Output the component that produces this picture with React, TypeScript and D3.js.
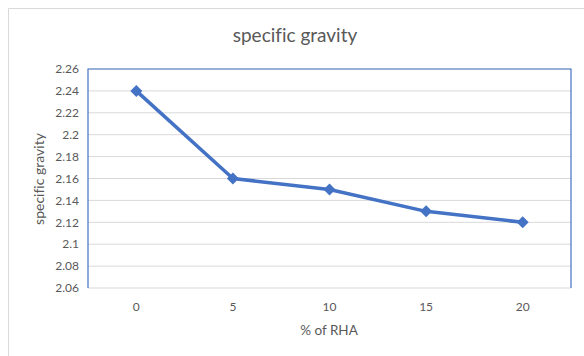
import React from "react";
import * as d3 from "d3";

const categories = ["0", "5", "10", "15", "20"];
const values = [2.24, 2.16, 2.15, 2.13, 2.12];
const yTicks = [2.06, 2.08, 2.1, 2.12, 2.14, 2.16, 2.18, 2.2, 2.22, 2.24, 2.26];

const W = 584, H = 356;
const M = { left: 88, right: 571, top: 69, bottom: 288 };
const FONT = "Lato, 'Open Sans', sans-serif";

export default function App() {
  const x = d3.scaleBand().domain(categories).range([M.left, M.right]);
  const y = d3.scaleLinear().domain([2.06, 2.26]).range([M.bottom, M.top]);
  const line = d3
    .line<number>()
    .x((_, i) => (x(categories[i]) as number) + x.bandwidth() / 2)
    .y((d) => y(d));
  const r = 6;
  const diamond = `M0,${-r} L${r},0 L0,${r} L${-r},0 Z`;
  return (
    <svg
      width={W}
      height={H}
      style={{ position: "absolute", left: 0, top: 0, fontVariantLigatures: "none" }}
      fontFamily={FONT}
    >
      <rect x={0} y={0} width={W} height={H} fill="#fff" />
      <path d={`M8.5,${H} V8.5 H${W}`} fill="none" stroke="#d9d9d9" strokeWidth={1} />
      <text x={295} y={42} textAnchor="middle" fontSize={19} fill="#595959">
        specific gravity
      </text>
      {yTicks.map((t) => (
        <g key={t}>
          <line x1={M.left} x2={M.right} y1={y(t)} y2={y(t)} stroke="#d9d9d9" strokeWidth={1} />
          <text x={79} y={y(t)} dy="0.35em" textAnchor="end" fontSize={12} fill="#595959">
            {d3.format("")(+t.toFixed(2))}
          </text>
        </g>
      ))}
      <path
        d={`M${M.left},${M.bottom} V${M.top} H${M.right} V${M.bottom}`}
        fill="none"
        stroke="#4472C4"
        strokeWidth={1.2}
      />
      {categories.map((c) => (
        <text
          key={c}
          x={(x(c) as number) + x.bandwidth() / 2}
          y={311}
          textAnchor="middle"
          fontSize={12}
          fill="#595959"
        >
          {c}
        </text>
      ))}
      <text x={329} y={335} textAnchor="middle" fontSize={13.5} fill="#595959">
        % of RHA
      </text>
      <text
        transform={`translate(44,179) rotate(-90)`}
        textAnchor="middle"
        fontSize={14}
        fill="#595959"
      >
        specific gravity
      </text>
      <path d={line(values) || ""} fill="none" stroke="#4472C4" strokeWidth={3.5} strokeLinejoin="round" />
      {values.map((v, i) => (
        <path
          key={i}
          d={diamond}
          transform={`translate(${(x(categories[i]) as number) + x.bandwidth() / 2},${y(v)})`}
          fill="#4472C4"
        />
      ))}
    </svg>
  );
}
